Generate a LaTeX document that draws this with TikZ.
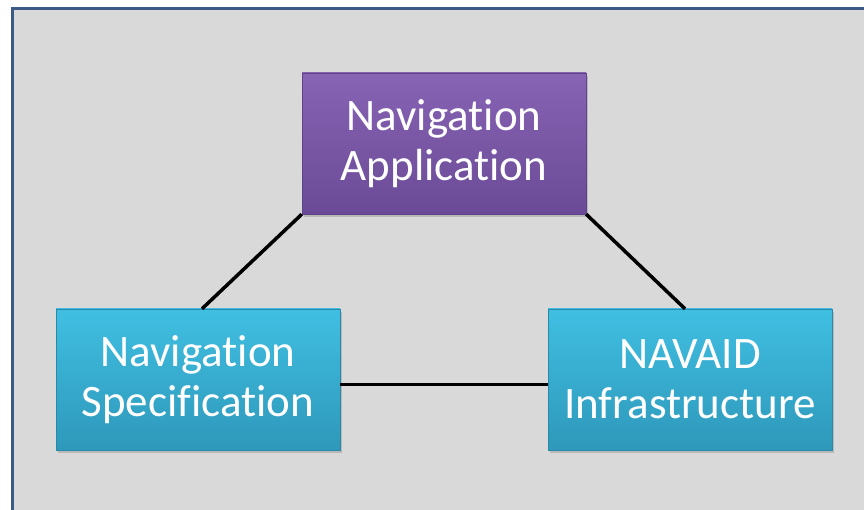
\documentclass[tikz,border=0pt]{standalone}
\usepackage{fontspec}
\setmainfont{Carlito}[RawFeature={-liga;-clig}]
\usepackage{tikz}
\usetikzlibrary{shapes,arrows}
\usetikzlibrary{shadows}
\usetikzlibrary{calc}

\begin{document}
\begin{tikzpicture}[x=1pt,y=-1pt]
  % Colors
  \definecolor{frame}{HTML}{3B5B86}
  \definecolor{back}{HTML}{D9D9D9}
  \definecolor{apptop}{HTML}{8864B4}
  \definecolor{appbot}{HTML}{6A4A96}
  \definecolor{boxtop}{HTML}{40BFE2}
  \definecolor{boxbot}{HTML}{2E98BA}
  % Styles
  \tikzstyle{block}=[rectangle,minimum width=284pt,minimum height=141pt,
    align=center,text=white,inner sep=0pt,
    font=\fontsize{45}{50}\selectfont,
    drop shadow={shadow xshift=2pt,shadow yshift=-3pt,opacity=0.35}]
  \tikzstyle{purple block}=[block,top color=apptop,bottom color=appbot,draw=appbot!90!black]
  \tikzstyle{cyan block}=[block,top color=boxtop,bottom color=boxbot,draw=boxbot!90!black]
  \tikzstyle{link}=[line width=3.5pt,black]

  % The graphic
  \useasboundingbox (0,0) rectangle (864,510);
  \fill[white] (0,0) rectangle (864,510);
  \draw[line width=3pt,frame,fill=back] (12.5,8.5) rectangle (880,530);

  \node[purple block] (app) at (444,143.5) {Navigation\\Application};
  \node[cyan block] (spec) at (198,379.5) {Navigation\\Specification};
  \node[cyan block] (infra) at (690,379.5) {NAVAID\\Infrastructure};

  \draw[link] (app.south west) -- ($(spec.north)+(4,0)$);
  \draw[link] (app.south east) -- ($(infra.north)+(-5,0)$);
  \draw[link] ($(spec.east)+(0,5)$) -- ($(infra.west)+(0,5)$);
\end{tikzpicture}
\end{document}
